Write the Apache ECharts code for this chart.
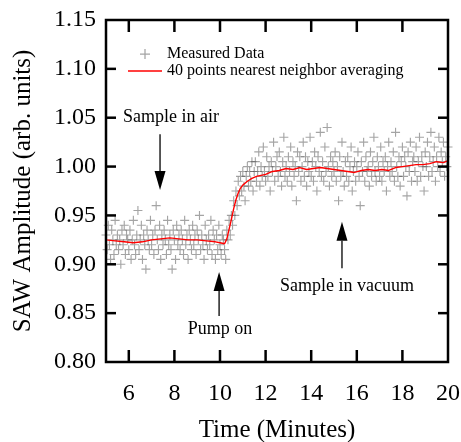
<!DOCTYPE html>
<html>
<head>
<meta charset="utf-8">
<script src="https://cdn.jsdelivr.net/npm/echarts@6/dist/echarts.min.js"></script>
<style>
  html, body { margin: 0; padding: 0; background: #fff; }
  #chart { width: 461px; height: 442px; }
</style>
</head>
<body>
<div id="chart"></div>
<script>
// measured samples, one every 0.05 min starting at 5 min
var sampleStart = 5;
var sampleStep = 0.05;
var measured = [
  0.930,0.915,0.940,0.920,0.905,0.935,0.925,0.910,0.945,0.920,
  0.930,0.915,0.925,0.900,0.935,0.920,0.940,0.910,0.930,0.925,
  0.915,0.935,0.905,0.925,0.945,0.920,0.910,0.930,0.955,0.915,
  0.925,0.940,0.905,0.930,0.920,0.895,0.935,0.925,0.915,0.945,
  0.920,0.930,0.910,0.935,0.960,0.925,0.915,0.940,0.905,0.930,
  0.920,0.935,0.925,0.910,0.945,0.920,0.930,0.915,0.895,0.935,
  0.925,0.905,0.940,0.920,0.930,0.915,0.935,0.925,0.910,0.945,
  0.920,0.930,0.905,0.935,0.925,0.915,0.940,0.920,0.930,0.910,
  0.935,0.925,0.950,0.915,0.930,0.920,0.905,0.940,0.925,0.915,
  0.930,0.920,0.945,0.910,0.935,0.925,0.905,0.930,0.915,0.940,
  0.920,0.910,0.930,0.925,0.915,0.905,
  // pump on -> rise
  0.935,0.925,0.945,0.930,0.950,0.940,0.965,0.950,0.975,0.960,
  0.985,0.970,0.990,0.975,0.995,0.980,0.965,0.990,1.000,0.980,
  0.995,0.985,1.005,0.975,0.995,
  // vacuum
  1.005,0.985,0.995,1.015,0.980,1.000,0.990,1.020,0.995,0.985,
  1.010,0.990,1.000,0.975,1.005,0.995,1.025,0.985,1.000,1.010,
  0.990,1.015,0.995,0.980,1.005,1.030,0.990,1.000,0.985,1.010,
  0.995,1.020,0.980,1.005,0.990,1.000,0.965,1.015,0.995,1.010,
  0.985,1.000,1.025,0.990,1.010,0.980,1.005,0.995,1.030,0.990,
  1.005,0.985,1.015,1.000,0.975,1.010,0.995,1.035,0.990,1.005,
  0.985,1.020,0.995,1.040,1.000,0.980,1.010,0.990,1.005,0.995,
  1.015,0.985,1.000,0.965,1.010,0.990,1.025,0.995,0.980,1.005,
  0.990,1.010,0.985,1.000,1.020,0.975,0.995,1.005,0.985,1.000,
  1.015,0.990,0.960,1.005,0.995,1.025,0.985,1.010,0.995,1.000,
  0.980,1.015,0.990,1.005,1.030,0.995,0.985,1.010,1.000,0.990,
  1.020,0.985,1.005,0.995,1.010,0.975,1.000,1.025,0.990,1.005,
  0.995,1.015,0.985,1.035,1.000,0.990,1.010,0.980,1.005,1.020,
  0.990,1.010,1.000,0.970,1.015,0.995,1.025,0.985,1.005,1.010,
  0.995,1.020,0.985,1.005,1.030,0.990,1.010,1.000,0.975,1.015,
  1.000,1.025,0.990,1.010,1.035,0.995,1.005,1.020,0.985,1.010,
  1.000,1.030,0.995,1.015,1.005,1.025,0.990,1.010,1.000,1.020
];

// 40 points nearest neighbor averaging
var avgTime = [5.0,5.4,5.8,6.2,6.6,7.0,7.4,7.8,8.2,8.6,9.0,9.4,9.8,10.0,10.2,10.3,10.4,10.5,10.6,10.7,
  10.8,10.9,11.0,11.2,11.4,11.6,11.8,12.0,12.3,12.6,12.9,13.2,13.5,13.8,14.1,14.4,14.7,15.0,15.3,15.6,
  15.9,16.2,16.5,16.8,17.1,17.4,17.7,18.0,18.3,18.6,18.9,19.2,19.5,19.8,20.0];
var avgValue = [0.925,0.924,0.923,0.922,0.923,0.925,0.926,0.927,0.926,0.925,0.925,0.924,0.923,0.922,0.921,0.926,0.936,0.946,0.957,0.966,
  0.973,0.978,0.981,0.985,0.988,0.990,0.991,0.992,0.995,0.996,0.998,0.997,0.999,0.997,0.998,0.999,0.998,0.997,0.996,0.995,
  0.994,0.996,0.997,0.996,0.997,0.996,0.999,1.000,1.001,1.002,1.002,1.003,1.005,1.004,1.006];

// tick marks on the frame (inside)
var xTicks = [6, 8, 10, 12, 14, 16, 18];
var yTicks = [0.85, 0.90, 0.95, 1.00, 1.05, 1.10];

// annotations in data coords: [label, text x, text y, arrow tail, arrow tip]
var notes = [
  ['Sample in air', 7.85, 1.0505, [7.37, 1.033], [7.37, 0.976]],
  ['Pump on', 10.0, 0.8335, [9.96, 0.847], [9.96, 0.892]],
  ['Sample in vacuum', 15.57, 0.878, [15.35, 0.896], [15.35, 0.9435]]
];

var serif = '"Liberation Serif", "Times New Roman", serif';
var plusPath = 'path://M3.5,0H4.5V3.5H8V4.5H4.5V8H3.5V4.5H0V3.5H3.5Z';
var dashPath = 'path://M0,0H68V3H0Z';

var scatterData = measured.map(function (v, i) {
  return [sampleStart + i * sampleStep, v];
});
var lineData = avgTime.map(function (t, i) {
  return [t, avgValue[i]];
});

var mychart = echarts.init(document.getElementById('chart'));
var option = {
  animation: false,
  grid: { left: 106, right: 13, top: 20, bottom: 80, outerBoundsMode: 'none' },
  legend: {
    orient: 'vertical',
    left: 123,
    top: 41,
    itemWidth: 34,
    itemHeight: 10,
    itemGap: 1,
    textStyle: { fontFamily: serif, fontSize: 16, color: '#000' },
    data: [
      { name: 'Measured Data', icon: plusPath },
      { name: '40 points nearest neighbor averaging', icon: dashPath }
    ]
  },
  xAxis: {
    type: 'value', min: 5, max: 20, splitNumber: 7,
    name: 'Time (Minutes)',
    nameLocation: 'middle',
    nameGap: 56,
    nameTextStyle: { fontFamily: serif, fontSize: 25, color: '#000' },
    axisLine: { show: false },
    axisTick: { show: false },
    axisLabel: { showMinLabel: false, fontFamily: serif, fontSize: 24, color: '#000', margin: 20 },
    splitLine: { show: false }
  },
  yAxis: {
    type: 'value', min: 0.8, max: 1.15, interval: 0.05,
    name: 'SAW Amplitude (arb. units)',
    nameLocation: 'middle',
    nameGap: 70,
    nameTextStyle: { fontFamily: serif, fontSize: 25, color: '#000' },
    axisLine: { show: false },
    axisTick: { show: false },
    axisLabel: {
      fontFamily: serif, fontSize: 24, color: '#000', margin: 10,
      formatter: function (v) { return Number(v).toFixed(2); }
    },
    splitLine: { show: false }
  },
  series: [{
    name: 'Measured Data',
    type: 'scatter',
    symbol: plusPath,
    symbolSize: 9,
    itemStyle: { color: 'rgba(70,70,70,0.62)' },
    data: scatterData
  }, {
    name: '40 points nearest neighbor averaging',
    type: 'line',
    showSymbol: false,
    symbol: 'none',
    lineStyle: { color: '#ff0000', width: 1.4 },
    itemStyle: { color: '#ff0000' },
    data: lineData
  }]
};
mychart.setOption(option);

var px = function (p) { return mychart.convertToPixel({ gridIndex: 0 }, p); };
var graphics = [];
var ink = { stroke: '#000', lineWidth: 2.5 };

// frame box and inward ticks, positioned through the axes' scales
var tl = px([5, 1.15]), br = px([20, 0.8]);
graphics.push({
  type: 'rect', z: 10,
  shape: { x: tl[0], y: tl[1], width: br[0] - tl[0], height: br[1] - tl[1] },
  style: { stroke: '#000', lineWidth: 2.5, fill: 'none' }
});
xTicks.forEach(function (t) {
  var x = px([t, 0.8])[0];
  graphics.push({ type: 'line', z: 10, shape: { x1: x, y1: br[1], x2: x, y2: br[1] - 12 }, style: ink });
  graphics.push({ type: 'line', z: 10, shape: { x1: x, y1: tl[1], x2: x, y2: tl[1] + 12 }, style: ink });
});
yTicks.forEach(function (v) {
  var y = px([5, v])[1];
  graphics.push({ type: 'line', z: 10, shape: { x1: tl[0], y1: y, x2: tl[0] + 10, y2: y }, style: ink });
  graphics.push({ type: 'line', z: 10, shape: { x1: br[0], y1: y, x2: br[0] - 10, y2: y }, style: ink });
});

// annotations: text + arrows
notes.forEach(function (n) {
  var tp = px([n[1], n[2]]);
  var tail = px(n[3]);
  var tip = px(n[4]);
  var dir = tip[1] > tail[1] ? 1 : -1;
  var headLen = 19, headHalf = 5.5;
  graphics.push({
    type: 'text', z: 10,
    x: tp[0], y: tp[1],
    style: { text: n[0], font: '18px ' + serif, fill: '#000', align: 'center', verticalAlign: 'middle' }
  });
  graphics.push({
    type: 'line', z: 10,
    shape: { x1: tail[0], y1: tail[1], x2: tip[0], y2: tip[1] - dir * headLen },
    style: { stroke: '#000', lineWidth: 1.3 }
  });
  graphics.push({
    type: 'polygon', z: 10,
    shape: { points: [[tip[0], tip[1]], [tip[0] - headHalf, tip[1] - dir * headLen], [tip[0] + headHalf, tip[1] - dir * headLen]] },
    style: { fill: '#000' }
  });
});
mychart.setOption({ graphic: graphics });
</script>
</body>
</html>
